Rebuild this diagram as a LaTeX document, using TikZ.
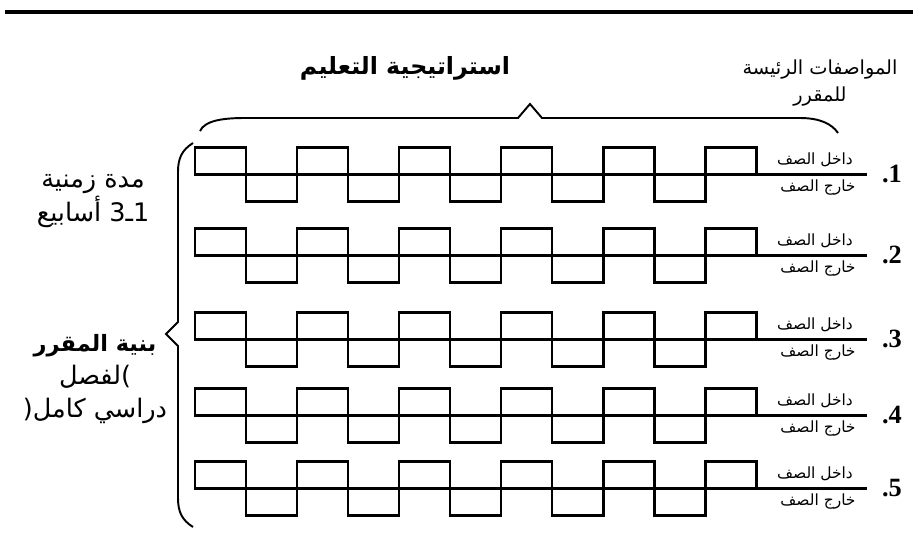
\documentclass[tikz,border=0pt]{standalone}
\usepackage{fontspec}
\setmainfont{Liberation Serif}
\newfontfamily\arabicfont[Script=Arabic]{DejaVu Sans}
\TeXXeTstate=1

\begin{document}
\begin{tikzpicture}[x=0.02cm, y=-0.02cm,
    wave/.style={line width=1.7pt, line join=miter},
    brace/.style={line width=1.1pt},
    lab/.style={inner sep=0pt, font=\arabicfont\fontsize{8.8}{9}\selectfont},
    side/.style={inner sep=0pt, align=center, font=\arabicfont\fontsize{14.5}{16}\selectfont}]
    \useasboundingbox (0,0) rectangle (913,552);
    \draw[line width=2.3pt] (5,12) -- (913,12);
    \node[inner sep=0pt, font=\arabicfont\bfseries\fontsize{13.5}{15}\selectfont] (strat) at (405,68) {\beginR استراتيجية التعليم\endR};
    \node[inner sep=0pt, align=center, font=\arabicfont\fontsize{11}{15}\selectfont] (spec) at (820,83) {\beginR المواصفات الرئيسة\endR\\\beginR للمقرر\endR};
    \draw[brace] (200,131) .. controls (205,120) and (225,118) .. (245,118) -- (518,118) -- (530,104) -- (542,118) -- (800,118) .. controls (820,118) and (832,124) .. (838,133);
    \foreach \m [count=\n] in {174,255,339,415,488} {
        \draw[wave] (195,\m) -- (867,\m);
        \foreach \k in {0,...,5} \draw[wave] (195+102*\k,\m) rectangle (246+102*\k,\m-27);
        \foreach \k in {0,...,4} \draw[wave] (246+102*\k,\m) rectangle (297+102*\k,\m+27);
        \node[lab, anchor=base] (in\n) at (815,\m-10) {\beginR داخل الصف\endR};
        \node[lab, anchor=base] (out\n) at (818,\m+17) {\beginR خارج الصف\endR};
        \node[inner sep=0pt, font=\bfseries\fontsize{15}{15}\selectfont] (num\n) at (892,\m) {.\n};
    }
    \draw[brace] (193,143) .. controls (182,150) and (178,158) .. (178,172) -- (178,322) -- (166,334) -- (178,346) -- (178,498) .. controls (178,512) and (182,520) .. (193,527);
    \node[side] (period) at (93,201) {\beginR مدة زمنية\endR\\\beginR 1ـ3 أسابيع\endR};
    \node[side, font=\arabicfont\fontsize{14.5}{19}\selectfont] (struct) at (95,379) {{\bfseries\fontsize{12.8}{19}\selectfont\beginR بنية المقرر\endR}\\\beginR لفصل\endR)\\(\beginR دراسي كامل\endR};
\end{tikzpicture}
\end{document}
